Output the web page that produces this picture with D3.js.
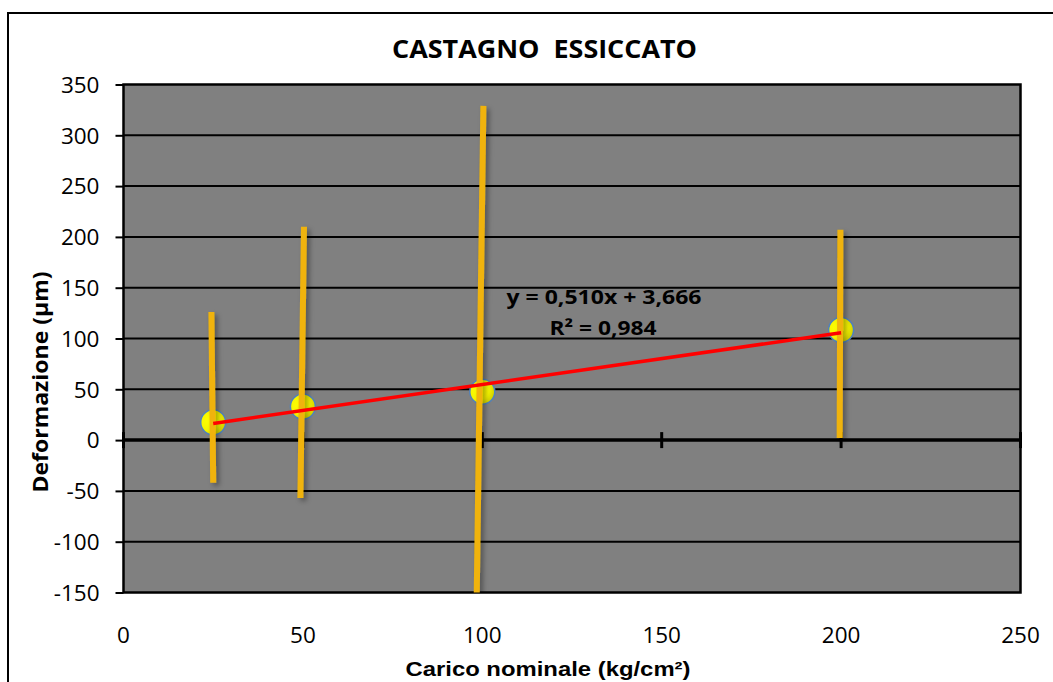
<!DOCTYPE html>
<html><head><meta charset="utf-8">
<script src="https://cdn.jsdelivr.net/npm/d3@7"></script>
<style>
html,body{margin:0;padding:0;background:#fff;}
svg{display:block;}
</style></head>
<body>
<script>
// ---- data ----
const loads = [25, 50, 100, 200];                 // Carico nominale (kg/cm²)
const deform = [17.5, 33.0, 47.6, 108.4];         // Deformazione (µm)
const errHigh = [126, 210, 329, 207];             // upper error end
const errLow = [-42, -57, -165, 2];               // lower error end
const errTopX = [24.5, 50.3, 100.3, 199.8];       // drawn x at upper end
const errBotX = [25.0, 49.3, 98.4, 199.6];        // drawn x at lower end
const trendSlope = 0.510, trendIntercept = 3.666;
const trendText = ["y = 0,510x + 3,666", "R² = 0,984"];
const yTicks = [-150, -100, -50, 0, 50, 100, 150, 200, 250, 300, 350];
const xTicks = [0, 50, 100, 150, 200, 250];
const title = "CASTAGNO  ESSICCATO";
const xTitle = "Carico nominale (kg/cm²)";
const yTitle = "Deformazione (µm)";

const W = 1053, H = 682;
const plot = {l: 123.5, t: 84.5, r: 1020.5, b: 592.5};

const svg = d3.select("body").append("svg").attr("width", W).attr("height", H);
const defs = svg.append("defs");
const f = defs.append("filter").attr("id", "shadow").attr("filterUnits", "userSpaceOnUse")
  .attr("x", 0).attr("y", 0).attr("width", W).attr("height", H);
f.append("feDropShadow").attr("dx", 3).attr("dy", 3).attr("stdDeviation", 2.5).attr("flood-color", "#000").attr("flood-opacity", 0.35);
defs.append("clipPath").attr("id", "clip").append("rect")
  .attr("x", plot.l).attr("y", plot.t).attr("width", plot.r - plot.l).attr("height", plot.b - plot.t);
const rg = defs.append("radialGradient").attr("id", "dot").attr("cx", "35%").attr("cy", "40%").attr("r", "70%");
rg.append("stop").attr("offset", "0%").attr("stop-color", "#ffff00");
rg.append("stop").attr("offset", "60%").attr("stop-color", "#f4f400");
rg.append("stop").attr("offset", "100%").attr("stop-color", "#c8c800");

// outer chart border
svg.append("rect").attr("x", 8).attr("y", 13).attr("width", 1100).attr("height", 800)
  .attr("fill", "#fff").attr("stroke", "#000").attr("stroke-width", 2);

const x = d3.scaleLinear().domain([0, 250]).range([plot.l, plot.r]);
const y = d3.scaleLinear().domain([-150, 350]).range([plot.b, plot.t]);

// plot area
svg.append("rect").attr("x", plot.l).attr("y", plot.t).attr("width", plot.r - plot.l).attr("height", plot.b - plot.t)
  .attr("fill", "#808080");

// gridlines
svg.append("g").selectAll("line").data(yTicks.filter(d => d !== 0 && d !== -150 && d !== 350)).join("line")
  .attr("x1", plot.l).attr("x2", plot.r).attr("y1", d => y(d)).attr("y2", d => y(d))
  .attr("stroke", "#000").attr("stroke-width", 2);

// plot border
svg.append("rect").attr("x", plot.l).attr("y", plot.t).attr("width", plot.r - plot.l).attr("height", plot.b - plot.t)
  .attr("fill", "none").attr("stroke", "#000").attr("stroke-width", 2.5);

// y axis
const yAxis = d3.axisLeft(y).tickValues(yTicks).tickSize(8).tickPadding(16).tickFormat(d => String(d));
const gy = svg.append("g").attr("transform", `translate(${plot.l},0)`).call(yAxis);
gy.select(".domain").remove();
gy.selectAll(".tick line").attr("stroke", "#000").attr("stroke-width", 2);
gy.selectAll(".tick text").attr("font-family", "'Open Sans', sans-serif").attr("font-size", 22.5).attr("fill", "#000").attr("dy", "0.35em");

// x axis at y=0 with cross ticks
const gx = svg.append("g").attr("transform", `translate(0,${y(0)})`);
gx.append("line").attr("x1", plot.l).attr("x2", plot.r).attr("stroke", "#000").attr("stroke-width", 3.5);
gx.selectAll("line.tk").data(xTicks).join("line").attr("class", "tk")
  .attr("x1", d => x(d)).attr("x2", d => x(d)).attr("y1", -8).attr("y2", 8)
  .attr("stroke", "#000").attr("stroke-width", 3);
// x tick labels at bottom
svg.append("g").selectAll("text").data(xTicks).join("text")
  .attr("x", d => x(d)).attr("y", 643).attr("text-anchor", "middle")
  .attr("font-family", "'Open Sans', sans-serif").attr("font-size", 22.5).attr("fill", "#000")
  .text(d => String(d));

// points
const gm = svg.append("g").attr("clip-path", "url(#clip)");
gm.selectAll("circle").data(loads).join("circle")
  .attr("cx", (d, i) => x(d)).attr("cy", (d, i) => y(deform[i])).attr("r", 12.5)
  .attr("fill", "url(#dot)").attr("stroke", "#4f81bd").attr("stroke-width", 1.5);

// error bars
gm.selectAll("line.err").data(loads).join("line").attr("class", "err")
  .attr("x1", (d, i) => x(errTopX[i])).attr("y1", (d, i) => y(errHigh[i]))
  .attr("x2", (d, i) => x(errBotX[i])).attr("y2", (d, i) => y(errLow[i]))
  .attr("stroke", "#f0b30a").attr("stroke-width", 6).attr("filter", "url(#shadow)");

// trendline
const tx = [loads[0], loads[loads.length - 1]];
gm.append("line")
  .attr("x1", x(tx[0])).attr("y1", y(trendSlope * tx[0] + trendIntercept))
  .attr("x2", x(tx[1])).attr("y2", y(trendSlope * tx[1] + trendIntercept))
  .attr("stroke", "#ff0000").attr("stroke-width", 3.5);

// trend label
svg.append("text").attr("x", 604).attr("y", 304).attr("text-anchor", "middle")
  .attr("font-family", "'Open Sans', sans-serif").attr("font-weight", "bold").attr("font-size", 20)
  .attr("textLength", 195).attr("lengthAdjust", "spacingAndGlyphs").attr("fill", "#000").text(trendText[0]);
svg.append("text").attr("x", 603).attr("y", 335).attr("text-anchor", "middle")
  .attr("font-family", "'Open Sans', sans-serif").attr("font-weight", "bold").attr("font-size", 20)
  .attr("textLength", 107).attr("lengthAdjust", "spacingAndGlyphs").attr("fill", "#000").text(trendText[1]);

// title
svg.append("text").attr("x", 544.5).attr("y", 58).attr("text-anchor", "middle")
  .style("white-space", "pre")
  .attr("font-family", "'Open Sans', sans-serif").attr("font-weight", "bold").attr("font-size", 24.5)
  .attr("textLength", 305).attr("lengthAdjust", "spacingAndGlyphs").attr("fill", "#000").text(title);

// x title
svg.append("text").attr("x", 548).attr("y", 676).attr("text-anchor", "middle")
  .attr("font-family", "'Liberation Sans', Arial, sans-serif").attr("font-weight", "bold").attr("font-size", 21)
  .attr("textLength", 285).attr("lengthAdjust", "spacingAndGlyphs").attr("fill", "#000").text(xTitle);

// y title
svg.append("text").attr("transform", "translate(48,382) rotate(-90)").attr("text-anchor", "middle")
  .attr("font-family", "'Open Sans', sans-serif").attr("font-weight", "bold").attr("font-size", 22)
  .attr("textLength", 221).attr("lengthAdjust", "spacingAndGlyphs").attr("fill", "#000").text(yTitle);
</script>
</body></html>
